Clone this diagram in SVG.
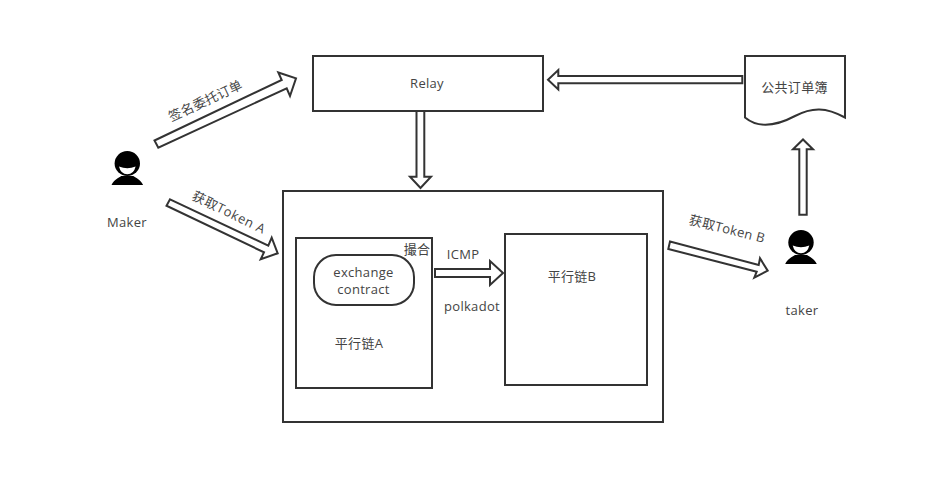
<svg xmlns="http://www.w3.org/2000/svg" width="944" height="483" viewBox="0 0 944 483">
<style>
.s{fill:#fff;stroke:#333;stroke-width:2}
.a{fill:#fff;stroke:#333;stroke-width:2;stroke-linejoin:miter}
text{font-family:"Open Sans","Noto Sans CJK SC",sans-serif;font-size:13px;fill:#444;text-anchor:middle;letter-spacing:.3px}
</style>
<defs>
<g id="person">
<path d="M-15.800 33.500C-13 28-9 26.500-6 24.500L6 24.500C9 26.500 13 28 15.800 33.500Z" fill="#000"/>
<ellipse cx="0" cy="12" rx="12.700" ry="12.500" fill="#000"/>
<path d="M-8.300 15Q0 18.500 8.300 15Q6.500 22.800 0 22.800Q-6.500 22.800-8.300 15Z" fill="#fff"/>
</g>
</defs>
<rect width="944" height="483" fill="#fff"/>
<g id="relay"><rect class="s" x="313" y="56" width="230" height="55"/><text x="427" y="88">Relay</text></g>
<g id="orderbook"><path class="s" d="M745 56H845V117.500C826 107 812 107 795 116C778 125 760 130 745 117.500Z"/><text x="794.500" y="92">公共订单簿</text></g>
<g id="container"><rect class="s" x="283" y="191" width="380" height="231"/></g>
<g id="chainA"><rect class="s" x="296" y="238" width="136" height="150"/><text x="359" y="348">平行链A</text><text x="417" y="254">撮合</text></g>
<g id="contract"><rect class="s" x="314" y="255" width="100" height="50" rx="22" ry="22"/><text x="363.500" y="276.500">exchange</text><text x="363.500" y="293.500">contract</text></g>
<g id="chainB"><rect class="s" x="505" y="234" width="142" height="151"/><text x="572" y="281">平行链B</text></g>
<g id="maker"><use href="#person" x="127.300" y="151.500"/><text x="127" y="227">Maker</text></g>
<g id="taker"><use href="#person" x="801" y="230.500"/><text x="802" y="315">taker</text></g>
<g id="connectors">
<polygon class="a" points="154.500,140.500 281.700,80 278.300,72.500 296,78.300 290,96 286.700,88.300 158.300,147.700"/>
<polygon class="a" points="170,199.300 268.300,245.700 271.700,237.700 277.700,253.300 260.700,259.300 264,252.300 166.500,205.700"/>
<polygon class="a" points="670,241.500 758.700,265 760,258.300 767.700,270.700 754.300,277.700 756.700,271.700 668.300,249"/>
<polygon class="a" points="806.700,214.700 806.700,149.300 813,149.300 803,139.500 793,149.300 799.300,149.300 799.300,214.700"/>
<polygon class="a" points="742.300,76 558.300,76 558.300,70 548,79.700 558.300,89.500 558.300,83.300 742.300,83.300"/>
<polygon class="a" points="416.500,111 416.500,176.700 410,176.700 420.500,188 431,176.700 424.300,176.700 424.300,111"/>
<polygon class="a" points="435,269 490,269 490,261 503,273 490,285 490,277 435,277"/>
</g>
<g id="labels">
<text transform="translate(207.500,105) rotate(-25)">签名委托订单</text>
<text transform="translate(227,216.500) rotate(26)" style="letter-spacing:.6px">获取Token A</text>
<text transform="translate(726,233.500) rotate(14)">获取Token B</text>
<text x="463" y="259">ICMP</text>
<text x="472" y="311">polkadot</text>
</g>
</svg>
